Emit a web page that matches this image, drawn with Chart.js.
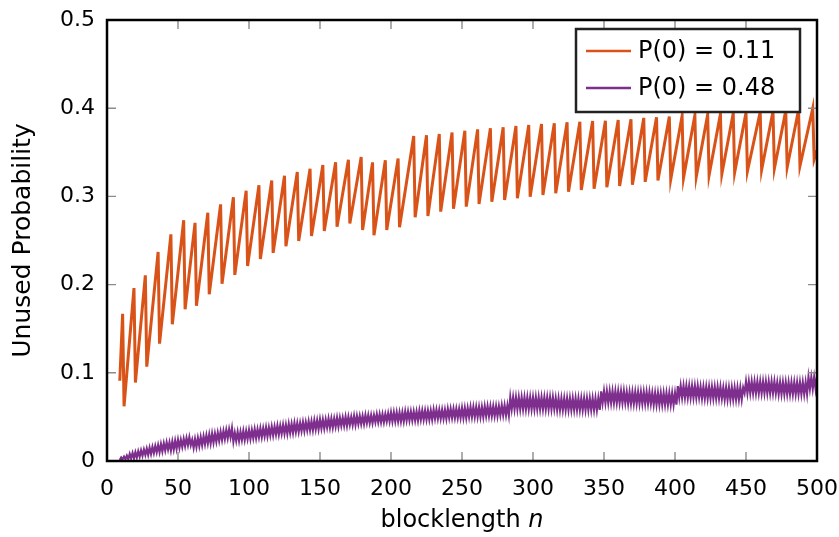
<!DOCTYPE html>
<html>
<head>
<meta charset="utf-8">
<script src="https://cdn.jsdelivr.net/npm/chart.js@4.4.1/dist/chart.umd.min.js"></script>
<style>
  html, body { margin: 0; padding: 0; background: #fff; }
  #wrap { width: 839px; height: 537px; }
</style>
</head>
<body>
<div id="wrap"><canvas id="chart"></canvas></div>
<script>
const seriesNames = ["P(0) = 0.11", "P(0) = 0.48"];
const seriesColors = ["#d95319", "#7e2f8e"];
const xTicks = [0, 50, 100, 150, 200, 250, 300, 350, 400, 450, 500];
const yTicks = [0, 0.1, 0.2, 0.3, 0.4, 0.5];

// P(0) = 0.11 : corners of the sawtooth (blocklength, unused probability)
const lowN = [
  9,
  11, 12, 19, 20, 27, 28, 36, 37, 45, 46, 54, 55, 62, 63, 71, 72, 80, 81, 89, 90,
  98, 99, 107, 108, 116, 117, 125, 126, 134, 135, 143, 144, 152, 153, 161, 162, 170, 171, 179, 180,
  187, 188, 196, 197, 205, 206, 216, 217, 225, 226, 234, 235, 243, 244, 252, 253, 261, 262, 270, 271,
  279, 280, 288, 289, 297, 298, 306, 307, 315, 316, 324, 325, 333, 334, 342, 343, 351, 352, 360, 361,
  369, 370, 378, 379, 387, 388, 396, 397, 405, 406, 414, 415, 423, 424, 432, 433, 441, 442, 450, 451,
  460, 461, 469, 470, 478, 479, 487, 488, 497, 498,
  500
];
const lowP = [
  0.091,
  0.167, 0.062, 0.196, 0.089, 0.2105, 0.107, 0.237, 0.133, 0.257, 0.155,
  0.273, 0.172, 0.270, 0.176, 0.2815, 0.189, 0.291, 0.201, 0.299, 0.211,
  0.3065, 0.221, 0.3126, 0.229, 0.318, 0.236, 0.3235, 0.2435, 0.3277, 0.2494,
  0.3314, 0.255, 0.3356, 0.2608, 0.3386, 0.2657, 0.3416, 0.2694, 0.3447, 0.2619,
  0.3386, 0.256, 0.341, 0.262, 0.343, 0.265, 0.3685, 0.2763, 0.3693, 0.2778,
  0.3707, 0.2827, 0.3725, 0.286, 0.3745, 0.2884, 0.376, 0.2914, 0.3772, 0.294,
  0.3783, 0.296, 0.3798, 0.2978, 0.381, 0.2997, 0.382, 0.3016, 0.3829, 0.3035,
  0.384, 0.3053, 0.3847, 0.3073, 0.3855, 0.3088, 0.3858, 0.3103, 0.3866, 0.3118,
  0.3874, 0.3133, 0.389, 0.3165, 0.3897, 0.318, 0.3905, 0.3195, 0.3912, 0.321,
  0.3919, 0.3225, 0.3927, 0.324, 0.3934, 0.3255, 0.3942, 0.327, 0.3949, 0.3285,
  0.3957, 0.330, 0.3964, 0.3315, 0.3972, 0.333, 0.398, 0.3345, 0.3998, 0.342,
  0.352
];

// P(0) = 0.48 : one value per blocklength, n = 9 ... 500
const highStart = 9;
const highP = [
  0.001,
  /* 10 */ 0.004, 0.002, 0.005, 0.002, 0.006, 0.002, 0.008, 0.003, 0.009, 0.003,
  /* 20 */ 0.010, 0.004, 0.011, 0.005, 0.012, 0.006, 0.013, 0.007, 0.014, 0.007,
  /* 30 */ 0.015, 0.008, 0.016, 0.009, 0.017, 0.010, 0.018, 0.010, 0.019, 0.011,
  /* 40 */ 0.020, 0.012, 0.021, 0.013, 0.021, 0.012, 0.022, 0.013, 0.023, 0.014,
  /* 50 */ 0.024, 0.015, 0.024, 0.016, 0.025, 0.017, 0.026, 0.018, 0.027, 0.018,
  /* 60 */ 0.024, 0.015, 0.025, 0.016, 0.026, 0.017, 0.027, 0.018, 0.028, 0.019,
  /* 70 */ 0.029, 0.020, 0.030, 0.020, 0.031, 0.021, 0.031, 0.022, 0.032, 0.023,
  /* 80 */ 0.033, 0.024, 0.034, 0.025, 0.035, 0.026, 0.036, 0.027, 0.037, 0.022,
  /* 90 */ 0.032, 0.023, 0.033, 0.023, 0.033, 0.024, 0.034, 0.024, 0.034, 0.025,
  /* 100 */ 0.035, 0.025, 0.035, 0.026, 0.036, 0.026, 0.036, 0.027, 0.037, 0.027,
  /* 110 */ 0.037, 0.028, 0.038, 0.028, 0.038, 0.029, 0.039, 0.029, 0.039, 0.030,
  /* 120 */ 0.040, 0.030, 0.040, 0.031, 0.041, 0.031, 0.041, 0.031, 0.042, 0.032,
  /* 130 */ 0.042, 0.032, 0.043, 0.033, 0.043, 0.033, 0.043, 0.034, 0.044, 0.034,
  /* 140 */ 0.044, 0.035, 0.045, 0.035, 0.045, 0.035, 0.046, 0.036, 0.046, 0.036,
  /* 150 */ 0.047, 0.037, 0.047, 0.037, 0.047, 0.038, 0.048, 0.038, 0.048, 0.038,
  /* 160 */ 0.048, 0.039, 0.049, 0.039, 0.049, 0.040, 0.049, 0.040, 0.050, 0.040,
  /* 170 */ 0.050, 0.041, 0.050, 0.041, 0.051, 0.041, 0.051, 0.042, 0.051, 0.042,
  /* 180 */ 0.051, 0.042, 0.052, 0.043, 0.052, 0.043, 0.052, 0.043, 0.052, 0.044,
  /* 190 */ 0.053, 0.044, 0.053, 0.044, 0.053, 0.044, 0.053, 0.045, 0.054, 0.045,
  /* 200 */ 0.055, 0.045, 0.055, 0.045, 0.055, 0.045, 0.055, 0.045, 0.055, 0.045,
  /* 210 */ 0.056, 0.046, 0.056, 0.046, 0.056, 0.046, 0.056, 0.046, 0.056, 0.046,
  /* 220 */ 0.057, 0.047, 0.057, 0.047, 0.057, 0.047, 0.057, 0.047, 0.057, 0.047,
  /* 230 */ 0.058, 0.048, 0.058, 0.048, 0.058, 0.048, 0.058, 0.048, 0.058, 0.048,
  /* 240 */ 0.059, 0.049, 0.059, 0.049, 0.059, 0.049, 0.059, 0.049, 0.059, 0.049,
  /* 250 */ 0.060, 0.049, 0.060, 0.049, 0.060, 0.050, 0.061, 0.050, 0.061, 0.050,
  /* 260 */ 0.061, 0.050, 0.061, 0.050, 0.061, 0.050, 0.062, 0.051, 0.062, 0.051,
  /* 270 */ 0.062, 0.051, 0.062, 0.051, 0.062, 0.051, 0.062, 0.052, 0.063, 0.052,
  /* 280 */ 0.063, 0.052, 0.063, 0.052, 0.072, 0.059, 0.072, 0.059, 0.072, 0.059,
  /* 290 */ 0.072, 0.059, 0.072, 0.059, 0.072, 0.059, 0.072, 0.059, 0.072, 0.059,
  /* 300 */ 0.072, 0.059, 0.072, 0.059, 0.072, 0.059, 0.072, 0.059, 0.072, 0.059,
  /* 310 */ 0.072, 0.059, 0.072, 0.059, 0.072, 0.059, 0.071, 0.058, 0.071, 0.058,
  /* 320 */ 0.071, 0.058, 0.071, 0.058, 0.071, 0.058, 0.071, 0.058, 0.071, 0.058,
  /* 330 */ 0.071, 0.058, 0.071, 0.058, 0.071, 0.058, 0.071, 0.058, 0.071, 0.058,
  /* 340 */ 0.071, 0.058, 0.071, 0.058, 0.071, 0.058, 0.071, 0.058, 0.079, 0.066,
  /* 350 */ 0.079, 0.066, 0.079, 0.066, 0.079, 0.066, 0.079, 0.066, 0.079, 0.066,
  /* 360 */ 0.079, 0.066, 0.079, 0.066, 0.079, 0.066, 0.078, 0.065, 0.078, 0.065,
  /* 370 */ 0.078, 0.065, 0.078, 0.065, 0.078, 0.065, 0.078, 0.065, 0.078, 0.065,
  /* 380 */ 0.078, 0.065, 0.078, 0.065, 0.077, 0.064, 0.077, 0.064, 0.077, 0.064,
  /* 390 */ 0.077, 0.064, 0.077, 0.064, 0.077, 0.064, 0.077, 0.064, 0.077, 0.064,
  /* 400 */ 0.077, 0.064, 0.085, 0.072, 0.085, 0.072, 0.085, 0.072, 0.085, 0.072,
  /* 410 */ 0.085, 0.072, 0.085, 0.072, 0.085, 0.072, 0.085, 0.072, 0.084, 0.071,
  /* 420 */ 0.084, 0.071, 0.084, 0.071, 0.084, 0.071, 0.084, 0.071, 0.084, 0.071,
  /* 430 */ 0.084, 0.071, 0.084, 0.071, 0.083, 0.070, 0.083, 0.070, 0.083, 0.070,
  /* 440 */ 0.083, 0.070, 0.083, 0.070, 0.083, 0.070, 0.083, 0.070, 0.083, 0.077,
  /* 450 */ 0.090, 0.077, 0.090, 0.077, 0.090, 0.077, 0.090, 0.077, 0.090, 0.077,
  /* 460 */ 0.090, 0.077, 0.090, 0.077, 0.090, 0.077, 0.090, 0.077, 0.090, 0.077,
  /* 470 */ 0.090, 0.077, 0.089, 0.076, 0.089, 0.076, 0.089, 0.076, 0.089, 0.076,
  /* 480 */ 0.089, 0.076, 0.089, 0.076, 0.089, 0.076, 0.089, 0.076, 0.089, 0.076,
  /* 490 */ 0.089, 0.076, 0.089, 0.076, 0.095, 0.082, 0.095, 0.082, 0.095, 0.082,
  0.095
];

const FONT = "'DejaVu Sans', sans-serif";

const decor = {
  id: "decor",
  afterDraw(chart) {
    const { ctx, chartArea: a, scales } = chart;
    ctx.save();

    // inward tick marks on all four sides
    ctx.strokeStyle = "#8c8c8c";
    ctx.lineWidth = 1.4;
    ctx.beginPath();
    xTicks.forEach(v => {
      const x = scales.x.getPixelForValue(v);
      ctx.moveTo(x, a.bottom); ctx.lineTo(x, a.bottom - 9);
      ctx.moveTo(x, a.top); ctx.lineTo(x, a.top + 9);
    });
    yTicks.forEach(v => {
      const y = scales.y.getPixelForValue(v);
      ctx.moveTo(a.left, y); ctx.lineTo(a.left + 9, y);
      ctx.moveTo(a.right, y); ctx.lineTo(a.right - 9, y);
    });
    ctx.stroke();

    // frame
    ctx.strokeStyle = "#000";
    ctx.lineWidth = 2.5;
    ctx.strokeRect(a.left, a.top, a.right - a.left, a.bottom - a.top);

    // axis titles
    ctx.fillStyle = "#000";
    ctx.textBaseline = "middle";
    const cx = (a.left + a.right) / 2;
    ctx.font = "24px " + FONT;
    const w1 = ctx.measureText("blocklength ").width;
    ctx.font = "italic 24px " + FONT;
    const w2 = ctx.measureText("n").width;
    const x0 = cx - (w1 + w2) / 2;
    ctx.textAlign = "left";
    ctx.font = "24px " + FONT;
    ctx.fillText("blocklength ", x0, 521);
    ctx.font = "italic 24px " + FONT;
    ctx.fillText("n", x0 + w1, 521);

    ctx.save();
    ctx.translate(23, (a.top + a.bottom) / 2);
    ctx.rotate(-Math.PI / 2);
    ctx.textAlign = "center";
    ctx.font = "25px " + FONT;
    ctx.fillText("Unused Probability", 0, 0);
    ctx.restore();

    // legend box
    const bx = a.right - 241, by = a.top + 9, bw = 224, bh = 83;
    ctx.fillStyle = "#fff";
    ctx.fillRect(bx, by, bw, bh);
    ctx.strokeStyle = "#222";
    ctx.lineWidth = 2.5;
    ctx.strokeRect(bx, by, bw, bh);
    ctx.font = "24px " + FONT;
    ctx.textAlign = "left";
    seriesNames.forEach((name, i) => {
      const y = by + 22 + i * 37;
      ctx.strokeStyle = seriesColors[i];
      ctx.lineWidth = 2.5;
      ctx.beginPath();
      ctx.moveTo(bx + 10, y);
      ctx.lineTo(bx + 55, y);
      ctx.stroke();
      ctx.fillStyle = "#000";
      ctx.fillText(name, bx + 62, y + 1);
    });
    ctx.restore();
  }
};

new Chart(document.getElementById("chart"), {
  type: "line",
  data: {
    datasets: [
      {
        label: seriesNames[0],
        data: lowN.map((n, i) => ({ x: n, y: lowP[i] })),
        borderColor: seriesColors[0],
        borderWidth: 3,
        pointRadius: 0,
        tension: 0
      },
      {
        label: seriesNames[1],
        data: highP.map((p, i) => ({ x: highStart + i, y: p })),
        borderColor: seriesColors[1],
        borderWidth: 2.2,
        pointRadius: 0,
        tension: 0
      }
    ]
  },
  options: {
    responsive: true,
    maintainAspectRatio: false,
    animation: false,
    layout: { padding: { left: 0, right: 22, top: 20, bottom: 0 } },
    plugins: { legend: { display: false }, tooltip: { enabled: false } },
    scales: {
      x: {
        type: "linear",
        min: 0,
        max: 500,
        afterBuildTicks: s => { s.ticks = xTicks.map(v => ({ value: v })); },
        afterFit: s => { s.height = 76; s.paddingLeft = 0; s.paddingRight = 0; },
        grid: { display: false, drawTicks: false },
        border: { display: false },
        ticks: { color: "#000", padding: 15, font: { family: FONT, size: 22 } }
      },
      y: {
        min: 0,
        max: 0.5,
        afterBuildTicks: s => { s.ticks = yTicks.map(v => ({ value: v })); },
        afterFit: s => { s.width = 107; s.paddingTop = 0; s.paddingBottom = 0; },
        grid: { display: false, drawTicks: false },
        border: { display: false },
        ticks: { color: "#000", padding: 12, font: { family: FONT, size: 22 } }
      }
    }
  },
  plugins: [decor]
});
</script>
</body>
</html>
